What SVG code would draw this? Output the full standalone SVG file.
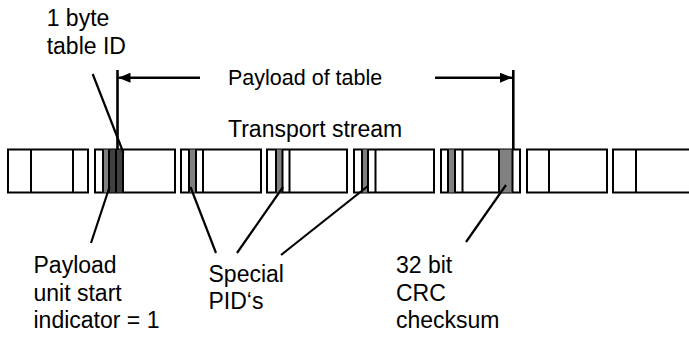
<svg xmlns="http://www.w3.org/2000/svg" width="689" height="337" viewBox="0 0 689 337">
<defs>
<marker id="ah" viewBox="0 0 12 10" refX="12" refY="5" markerWidth="12" markerHeight="10" markerUnits="userSpaceOnUse" orient="auto"><path d="M0,0 L12,5 L0,10 z" fill="#000"/></marker>
</defs>
<style>
text{font-family:"Liberation Sans",Arial,sans-serif;font-size:23px;fill:#000}
.pk{fill:#fff;stroke:#000;stroke-width:2}
.ln{stroke:#000;stroke-width:2;fill:none}
.g{fill:#808080}
.d{fill:#404040}
.ptr{stroke:#000;stroke-width:2.2;fill:none}
.dim{stroke:#000;stroke-width:2.6;fill:none}
.small{font-size:21.5px}
</style>
<rect width="689" height="337" fill="#fff"/>
<g id="packet1">
<rect class="pk" x="8" y="149.5" width="80" height="43"/>
<path class="ln" d="M31,149.5V192.5M73,149.5V192.5"/>
</g>
<g id="packet2">
<rect class="pk" x="95" y="149.5" width="80" height="43"/>
<rect class="g" x="103" y="149.5" width="6" height="43"/>
<rect class="d" x="109" y="149.5" width="14" height="43"/>
<path class="ln" d="M103,149.5V192.5M109,149.5V192.5M116,149.5V192.5M123,149.5V192.5"/>
</g>
<g id="packet3">
<rect class="pk" x="181" y="149.5" width="80" height="43"/>
<rect class="g" x="189" y="149.5" width="7" height="43"/>
<path class="ln" d="M189,149.5V192.5M196,149.5V192.5M203,149.5V192.5"/>
</g>
<g id="packet4">
<rect class="pk" x="267" y="149.5" width="80" height="43"/>
<rect class="g" x="276" y="149.5" width="6.5" height="43"/>
<path class="ln" d="M276,149.5V192.5M282.5,149.5V192.5M289.5,149.5V192.5"/>
</g>
<g id="packet5">
<rect class="pk" x="354" y="149.5" width="80" height="43"/>
<rect class="g" x="362" y="149.5" width="6" height="43"/>
<path class="ln" d="M362,149.5V192.5M368,149.5V192.5M375.5,149.5V192.5"/>
</g>
<g id="packet6">
<rect class="pk" x="441" y="149.5" width="79" height="43"/>
<rect class="g" x="448" y="149.5" width="7" height="43"/>
<rect class="g" x="499" y="149.5" width="13.5" height="43"/>
<path class="ln" d="M448,149.5V192.5M455,149.5V192.5M462.5,149.5V192.5M499,149.5V192.5M512.5,149.5V192.5"/>
</g>
<g id="packet7">
<rect class="pk" x="527" y="149.5" width="80" height="43"/>
<path class="ln" d="M549,149.5V192.5"/>
</g>
<g id="packet8">
<rect class="pk" x="613" y="149.5" width="80" height="43"/>
<path class="ln" d="M636,149.5V192.5"/>
</g>
<g id="connectors">
<path class="dim" d="M200,77.7H118.5" marker-end="url(#ah)"/>
<path class="dim" d="M435,77.7H512" marker-end="url(#ah)"/>
<path class="dim" d="M117.5,70V149.5M513.3,70V149.5"/>
<path class="ptr" d="M92.7,74L123.5,153"/>
<path class="ptr" d="M109.5,187L91,243"/>
<path class="ptr" d="M190.5,187L216,253"/>
<path class="ptr" d="M283,187L237,253"/>
<path class="ptr" d="M368,186L281,255"/>
<path class="ptr" d="M506,185L466,242"/>
</g>
<g id="label-tableid"><text x="46.7" y="26">1 byte</text><text x="46.7" y="54">table ID</text></g>
<g id="label-payload-table"><text class="small" x="228" y="85">Payload of table</text></g>
<g id="label-ts"><text x="228" y="137">Transport stream</text></g>
<g id="label-pusi"><text x="33.5" y="272.7">Payload</text><text x="33.5" y="300.5">unit start</text><text x="33.5" y="328.3">indicator = 1</text></g>
<g id="label-pid"><text x="208.5" y="281.7">Special</text><text x="208.5" y="309.3">PID‘s</text></g>
<g id="label-crc"><text x="396" y="272.7">32 bit</text><text x="396" y="300.5">CRC</text><text x="396" y="328.3">checksum</text></g>
</svg>
